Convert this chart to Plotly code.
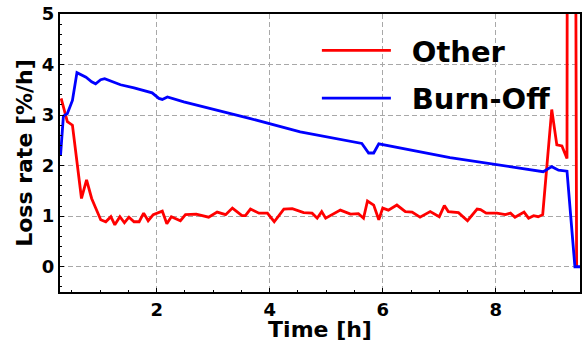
import plotly.graph_objects as go

burn_t = [0.30, 0.35, 0.42, 0.51, 0.59, 0.75, 0.85, 0.92, 1.01, 1.08, 1.36, 1.60, 1.92, 2.04,
          2.10, 2.19, 2.48, 3.07, 3.66, 4.54, 5.63, 5.75, 5.84, 5.93, 7.19, 8.84, 8.99, 9.11,
          9.26, 9.40, 9.49]
burn_v = [2.21, 2.98, 3.03, 3.29, 3.84, 3.75, 3.66, 3.62, 3.70, 3.72, 3.60, 3.54, 3.44, 3.33,
          3.31, 3.36, 3.26, 3.10, 2.93, 2.67, 2.44, 2.25, 2.25, 2.43, 2.16, 1.88, 1.98, 1.91,
          1.89, 0.0, 0.0]

other_t = [0.31, 0.42, 0.51, 0.67, 0.76, 0.85, 1.01, 1.10, 1.19, 1.26, 1.35, 1.43, 1.51, 1.60,
           1.69, 1.77, 1.85, 1.94, 2.10, 2.18, 2.26, 2.42, 2.51, 2.70, 2.92, 3.07, 3.22, 3.34,
           3.51, 3.57, 3.66, 3.81, 3.96, 4.08, 4.25, 4.40, 4.60, 4.75, 4.84, 4.92, 4.99, 5.25,
           5.43, 5.57, 5.66, 5.73, 5.84, 5.93, 6.00, 6.10, 6.25, 6.40, 6.52, 6.66, 6.84, 7.00,
           7.09, 7.16, 7.34, 7.50, 7.67, 7.73, 7.83, 8.02, 8.17, 8.26, 8.34, 8.50, 8.58, 8.67,
           8.75, 8.83, 8.99, 9.08, 9.17, 9.26, 9.27, 9.40, 9.43]
other_v = [3.33, 2.87, 2.80, 1.35, 1.72, 1.35, 0.93, 0.89, 0.99, 0.83, 0.99, 0.87, 0.98, 0.89,
           0.89, 1.06, 0.91, 1.03, 1.10, 0.85, 0.99, 0.91, 1.03, 1.04, 0.98, 1.08, 1.03, 1.16,
           1.01, 1.01, 1.14, 1.06, 1.06, 0.89, 1.14, 1.15, 1.07, 1.06, 0.96, 1.09, 0.96, 1.12,
           1.04, 1.05, 0.96, 1.30, 1.22, 0.93, 1.16, 1.12, 1.22, 1.09, 1.08, 0.98, 1.09, 0.99,
           1.21, 1.09, 1.07, 0.91, 1.14, 1.13, 1.06, 1.06, 1.03, 1.06, 0.98, 1.08, 0.96, 1.01,
           0.99, 1.03, 3.11, 2.41, 2.39, 2.14, 12.0, 12.0, 0.0]

x_ticks = [2, 4, 6, 8]
y_ticks = [0, 1, 2, 3, 4, 5]

FONT = "DejaVu Sans"
PAD = "\u00a0\u2009"

fig = go.Figure()
fig.add_trace(go.Scatter(x=other_t, y=other_v, mode="lines", name=PAD + "Other",
                         line=dict(color="#ff0000", width=2.8), legendgroup="a"))
fig.add_trace(go.Scatter(x=burn_t, y=burn_v, mode="lines", name=PAD + "Burn-Off",
                         line=dict(color="#0000ff", width=2.8), legendgroup="b"))

axis_common = dict(
    showline=True, linecolor="black", linewidth=2, mirror=True,
    ticks="inside", ticklen=4, tickwidth=1, tickcolor="black",
    showgrid=True, gridcolor="#a8a8a8", gridwidth=1, griddash="5px,3px",
    zeroline=False, automargin=False,
    tickfont=dict(family=FONT, size=18, color="black", weight="bold"),
)

fig.update_xaxes(range=[0.29, 9.49], tickvals=x_ticks,
                 minor=dict(dtick=0.5, ticks="inside", ticklen=2, tickcolor="black", showgrid=False),
                 title=dict(text="Time [h]", standoff=6,
                            font=dict(family=FONT, size=22, color="black", weight="bold")),
                 **axis_common)
fig.update_yaxes(range=[-0.5, 5], tickvals=y_ticks,
                 minor=dict(dtick=0.2, ticks="inside", ticklen=2, tickcolor="black", showgrid=False),
                 title=dict(text="Loss rate [%/h]", standoff=3,
                            font=dict(family=FONT, size=22, color="black", weight="bold")),
                 **axis_common)

fig.update_layout(
    width=582, height=342,
    margin=dict(l=60, r=2, t=14, b=50),
    plot_bgcolor="white", paper_bgcolor="white",
    showlegend=True,
    legend=dict(x=0.494, y=0.96, xanchor="left", yanchor="top",
                bgcolor="rgba(0,0,0,0)", borderwidth=0,
                traceorder="grouped", tracegroupgap=7, itemwidth=69,
                font=dict(family=FONT, size=29, color="black", weight="bold")),
)

fig.write_html("out.html", config={"displayModeBar": False},
               post_script="document.body.style.margin='0';")
